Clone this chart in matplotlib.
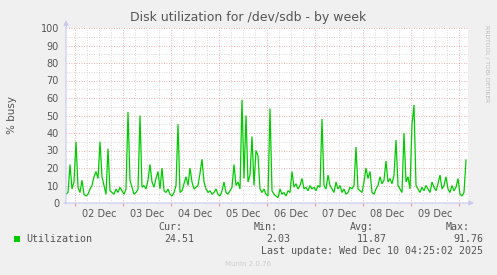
import matplotlib
matplotlib.use('Agg')
import matplotlib.pyplot as plt
import matplotlib.dates as mdates
import pandas as pd
from datetime import datetime

W, H = 497, 275

title = "Disk utilization for /dev/sdb - by week"
ylabel = "% busy"
series_name = "Utilization"
yticks = list(range(0, 101, 10))
day_labels = ["02 Dec", "03 Dec", "04 Dec", "05 Dec", "06 Dec", "07 Dec", "08 Dec", "09 Dec"]
stats_labels = ["Cur:", "Min:", "Avg:", "Max:"]
stats_values = ["24.51", "2.03", "11.87", "91.76"]
last_update = "Last update: Wed Dec 10 04:25:02 2025"
version = "Munin 2.0.76"
side_text = "RRDTOOL / TOBI OETIKER"

# hourly samples, from Dec 01 19:25
util = [
    5, 6, 22, 8, 12, 35, 9, 6, 13, 5, 4, 5, 8, 10, 15, 18, 14, 35, 15, 10,
    5, 31, 7, 6, 5, 8, 6, 9, 7, 5, 8, 52, 13, 9, 5, 6, 8, 50, 9, 10,
    8, 13, 22, 12, 9, 14, 18, 8, 20, 7, 6, 8, 5, 4, 6, 10, 45, 6, 7, 11,
    15, 10, 20, 12, 8, 9, 10, 17, 25, 12, 8, 6, 7, 5, 6, 8, 5, 4, 7, 12,
    6, 5, 7, 9, 22, 10, 12, 8, 59, 14, 50, 12, 16, 38, 10, 30, 27, 8, 6, 8,
    5, 4, 54, 7, 5, 4, 3, 8, 5, 6, 4, 7, 6, 18, 9, 11, 8, 10, 14, 8,
    9, 7, 10, 8, 9, 7, 10, 9, 48, 10, 8, 16, 10, 8, 6, 12, 8, 10, 6, 8,
    5, 6, 9, 8, 10, 32, 8, 7, 6, 12, 20, 14, 18, 6, 5, 8, 10, 15, 11, 13,
    24, 12, 14, 11, 16, 36, 10, 8, 6, 40, 12, 15, 8, 45, 56, 10, 8, 6, 9, 7,
    10, 8, 6, 12, 9, 7, 11, 16, 8, 10, 15, 8, 6, 10, 7, 9, 14, 5, 4, 6,
    24.5,
]

t_start = datetime(2025, 12, 1, 19, 25)
t_end = datetime(2025, 12, 10, 4, 25)
times = pd.date_range(t_start, periods=len(util), freq='h')

BG = '#f0f0f0'
TXT = '#555555'
fig = plt.figure(figsize=(W / 100, H / 100), dpi=100, facecolor=BG)

def px(x, y):
    return x / W, 1 - y / H

ax = fig.add_axes([66 / W, (H - 203) / H, (468 - 66) / W, (203 - 28) / H])
ax.set_facecolor('white')
ax.set_xlim(t_start, t_end)
ax.set_ylim(0, 100)

# grid
ax.xaxis.set_major_locator(mdates.DayLocator())
ax.xaxis.set_minor_locator(mdates.HourLocator(byhour=[6, 12, 18]))
ax.set_yticks(yticks)
ax.set_yticks(list(range(5, 100, 10)), minor=True)
ax.grid(which='minor', color='#cccccc', linestyle=(0, (1, 2)), linewidth=0.6)
ax.grid(which='major', color='#e69a9a', linestyle=(0, (1, 2)), linewidth=0.6)
ax.set_axisbelow(True)
ax.tick_params(axis='x', which='both', labelbottom=False, length=0)
ax.tick_params(axis='x', which='major', length=2, color='#e69a9a', direction='out')
ax.tick_params(axis='y', which='both', length=0, labelsize=7, labelcolor=TXT, pad=5)
ax.set_yticklabels([str(v) for v in yticks])
for s in ax.spines.values():
    s.set_visible(False)

ax.plot(times, util, color='#00cc00', linewidth=0.9, solid_joinstyle='miter')

# day labels at noon
for i, lab in enumerate(day_labels):
    ax.text(datetime(2025, 12, 2 + i, 12), -3.5, lab, ha='center', va='top',
            fontsize=7, color=TXT, transform=ax.transData, clip_on=False)

# axes arrows
ax.annotate('', xy=(0, 1.045), xytext=(0, -0.005), xycoords='axes fraction',
            arrowprops=dict(arrowstyle='-|>', color='#c8c8f0', lw=0.8, mutation_scale=7, shrinkA=0, shrinkB=0))
ax.annotate('', xy=(1.015, 0), xytext=(-0.005, 0), xycoords='axes fraction',
            arrowprops=dict(arrowstyle='-|>', color='#c8c8f0', lw=0.8, mutation_scale=7, shrinkA=0, shrinkB=0))

# title and labels
fig.text(*px(248, 18), title, ha='center', va='center', fontsize=9, color=TXT)
fig.text(*px(12, 115), ylabel, ha='center', va='center', rotation=90, fontsize=7.5, color=TXT)
fig.text(*px(487, 25), side_text, ha='center', va='top', rotation=270, fontsize=4.3, color='#bbbbbb')

# legend
mono = 'DejaVu Sans Mono'
fig.patches.append(plt.Rectangle(px(14, 242), 6 / W, 6 / H, transform=fig.transFigure,
                                 facecolor='#00cc00', edgecolor='none'))
fig.text(*px(26, 239), series_name, ha='left', va='center', fontsize=7.2, family=mono, color=TXT)
label_right = [182, 278, 374, 470]
value_right = [194, 290, 387, 483]
for lab, v, xl, xv in zip(stats_labels, stats_values, label_right, value_right):
    fig.text(*px(xl, 227), lab, ha='right', va='center', fontsize=7.2, family=mono, color=TXT)
    fig.text(*px(xv, 239), v, ha='right', va='center', fontsize=7.2, family=mono, color=TXT)
fig.text(*px(483, 251), last_update, ha='right', va='center', fontsize=7.2, family=mono, color=TXT)
fig.text(*px(248, 264), version, ha='center', va='center', fontsize=5, color='#cccccc')

fig.savefig('out.png', dpi=100, facecolor=BG)
